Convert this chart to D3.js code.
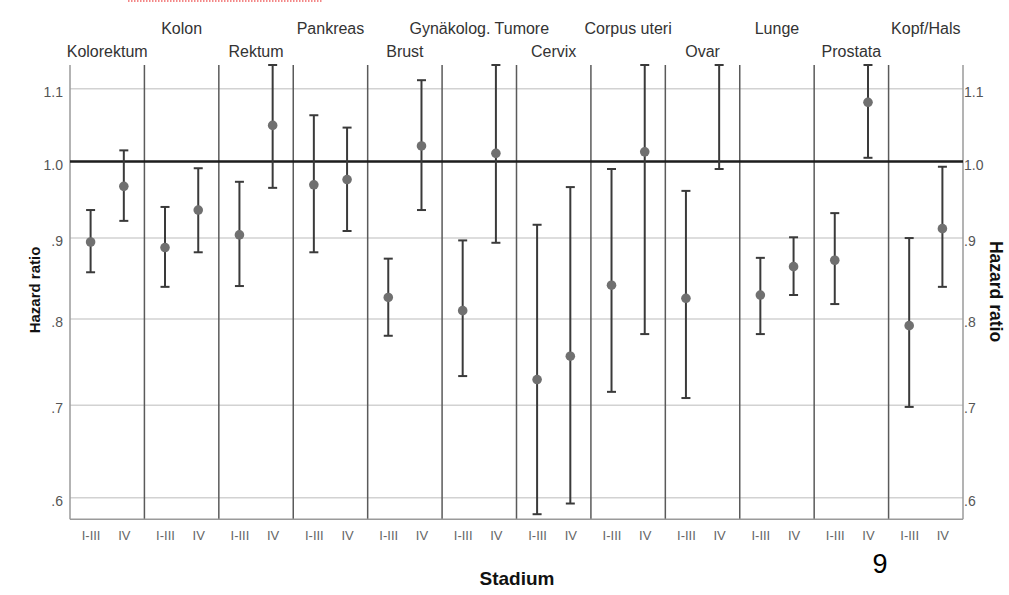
<!DOCTYPE html>
<html><head><meta charset="utf-8">
<script src="https://d3js.org/d3.v7.min.js"></script>
<style>
html,body{margin:0;padding:0;background:#fff;}
svg{display:block;font-family:"Liberation Sans",Arial,sans-serif;}
</style></head>
<body><svg id="c" width="1009" height="595"></svg>
<script>
// ---- data ----
const categories = ["Kolorektum","Kolon","Rektum","Pankreas","Brust","Gynäkolog. Tumore","Cervix","Corpus uteri","Ovar","Lunge","Prostata","Kopf/Hals"];
const stages = ["I-III","IV"];
const hrEarly  = [0.895, 0.888, 0.904, 0.969, 0.826, 0.810, 0.729, 0.841, 0.825, 0.829, 0.872, 0.792];
const lowEarly = [0.857, 0.839, 0.840, 0.882, 0.780, 0.733, 0.583, 0.715, 0.708, 0.782, 0.818, 0.698];
const upEarly  = [0.936, 0.940, 0.973, 1.063, 0.874, 0.897, 0.917, 0.990, 0.961, 0.875, 0.932, 0.900];
const hrLate   = [0.967, 0.936, 1.049, 0.976, 1.021, 1.011, 0.756, 1.013, 1.180, 0.864, 1.081, 0.912];
const lowLate  = [0.922, 0.882, 0.965, 0.909, 0.936, 0.894, 0.594, 0.782, 0.990, 0.829, 1.005, 0.839];
const upLate   = [1.015, 0.991, 1.140, 1.046, 1.112, 1.143, 0.966, 1.310, 1.410, 0.901, 1.163, 0.993];
const yTicks = [0.6, 0.7, 0.8, 0.9, 1.0, 1.1];
const yTickLabels = [".6", ".7", ".8", ".9", "1.0", "1.1"];
const yDomain = [0.5778, 1.1336];
const refValue = 1.0;

// ---- layout ----
const svg = d3.select("#c");
const L = 70, R = 963, T = 65, B = 519.3;

const x = d3.scaleBand().domain(categories).range([L, R]).padding(0);
const xs = d3.scalePoint().domain(stages).range([0, x.bandwidth()]).padding(0.62);
const y = d3.scaleSqrt().domain(yDomain).range([B, T]);
const yc = y.copy().clamp(true);

const rows = [];
categories.forEach((c, i) => {
  rows.push({cat: c, st: stages[0], hr: hrEarly[i], lo: lowEarly[i], hi: upEarly[i]});
  rows.push({cat: c, st: stages[1], hr: hrLate[i], lo: lowLate[i], hi: upLate[i]});
});

// gridlines
svg.append("g").selectAll("line").data(yTicks).join("line")
  .attr("x1", L).attr("x2", R)
  .attr("y1", d => y(d)).attr("y2", d => y(d))
  .attr("stroke", "#d2d2d2").attr("stroke-width", 1.5);

// panel dividers
svg.append("g").selectAll("line").data(categories.slice(1)).join("line")
  .attr("x1", d => x(d)).attr("x2", d => x(d))
  .attr("y1", T).attr("y2", B)
  .attr("stroke", "#5a5a5a").attr("stroke-width", 1.5);

// axis frame lines
const frame = svg.append("g").attr("stroke", "#9a9a9a").attr("stroke-width", 1.5);
frame.append("line").attr("x1", L).attr("x2", L).attr("y1", T).attr("y2", B);
frame.append("line").attr("x1", R).attr("x2", R).attr("y1", T).attr("y2", B);
frame.append("line").attr("x1", L).attr("x2", R).attr("y1", B).attr("y2", B);

// reference line at 1.0
svg.append("line").attr("x1", L).attr("x2", R)
  .attr("y1", y(refValue)).attr("y2", y(refValue))
  .attr("stroke", "#1e1e1e").attr("stroke-width", 2.6);

// y axes (labels)
const fmt = d => yTickLabels[yTicks.indexOf(d)];
const axL = svg.append("g").attr("transform", `translate(${L - 7},0)`)
  .call(d3.axisLeft(y).tickValues(yTicks).tickFormat(fmt).tickSize(0).tickPadding(0));
const axR = svg.append("g").attr("transform", `translate(${R + 1},0)`)
  .call(d3.axisRight(y).tickValues(yTicks).tickFormat(fmt).tickSize(0).tickPadding(0));
[axL, axR].forEach(a => {
  a.select(".domain").remove();
  a.selectAll("text").attr("font-size", 14).attr("fill", "#555")
    .attr("font-family", "Liberation Sans, Arial, sans-serif").attr("dy", "0.55em");
});

// stage axis per panel
categories.forEach(c => {
  const g = svg.append("g").attr("transform", `translate(${x(c)},${B})`)
    .call(d3.axisBottom(xs).tickSize(0).tickPadding(0));
  g.select(".domain").remove();
  g.selectAll("text").attr("font-size", 13).attr("fill", "#666")
    .attr("font-family", "Liberation Sans, Arial, sans-serif").attr("y", 11).attr("dy", "0.71em");
});

// panel labels (staggered)
svg.append("g").selectAll("text").data(categories).join("text")
  .attr("x", d => x(d) + x.bandwidth() / 2)
  .attr("y", (d, i) => i % 2 === 0 ? 56.5 : 34)
  .attr("text-anchor", "middle").attr("font-size", 16).attr("fill", "#333")
  .text(d => d);

// error bars
const capW = 4.5;
const eb = svg.append("g").attr("stroke", "#3a3a3a").attr("stroke-width", 2);
rows.forEach(r => {
  const cx = x(r.cat) + xs(r.st);
  const y1 = yc(r.lo), y2 = yc(r.hi);
  eb.append("line").attr("x1", cx).attr("x2", cx).attr("y1", y1).attr("y2", y2);
  eb.append("line").attr("x1", cx - capW).attr("x2", cx + capW).attr("y1", y1).attr("y2", y1);
  eb.append("line").attr("x1", cx - capW).attr("x2", cx + capW).attr("y1", y2).attr("y2", y2);
});

// points (hidden if outside the axis range)
svg.append("g").selectAll("circle")
  .data(rows.filter(r => r.hr >= yDomain[0] && r.hr <= yDomain[1])).join("circle")
  .attr("cx", r => x(r.cat) + xs(r.st)).attr("cy", r => y(r.hr))
  .attr("r", 4.8).attr("fill", "#707070");

// axis titles
svg.append("text").attr("transform", "translate(40,290) rotate(-90)")
  .attr("text-anchor", "middle").attr("font-size", 15).attr("font-weight", "bold").attr("fill", "#111")
  .text("Hazard ratio");
svg.append("text").attr("transform", "translate(990,291.5) rotate(90)")
  .attr("text-anchor", "middle").attr("font-size", 17.5).attr("font-weight", "bold").attr("fill", "#111")
  .text("Hazard ratio");
svg.append("text").attr("x", 517).attr("y", 585)
  .attr("text-anchor", "middle").attr("font-size", 19).attr("font-weight", "bold").attr("fill", "#111")
  .text("Stadium");

// page number
svg.append("text").attr("x", 880).attr("y", 573)
  .attr("text-anchor", "middle").attr("font-size", 27).attr("fill", "#000")
  .text("9");

// spell-check underline remnant of the cut-off slide title
svg.append("line").attr("x1", 128).attr("x2", 323).attr("y1", 1).attr("y2", 1)
  .attr("stroke", "#f06060").attr("stroke-width", 1.5).attr("stroke-dasharray", "1.5,1.5");
</script></body></html>
